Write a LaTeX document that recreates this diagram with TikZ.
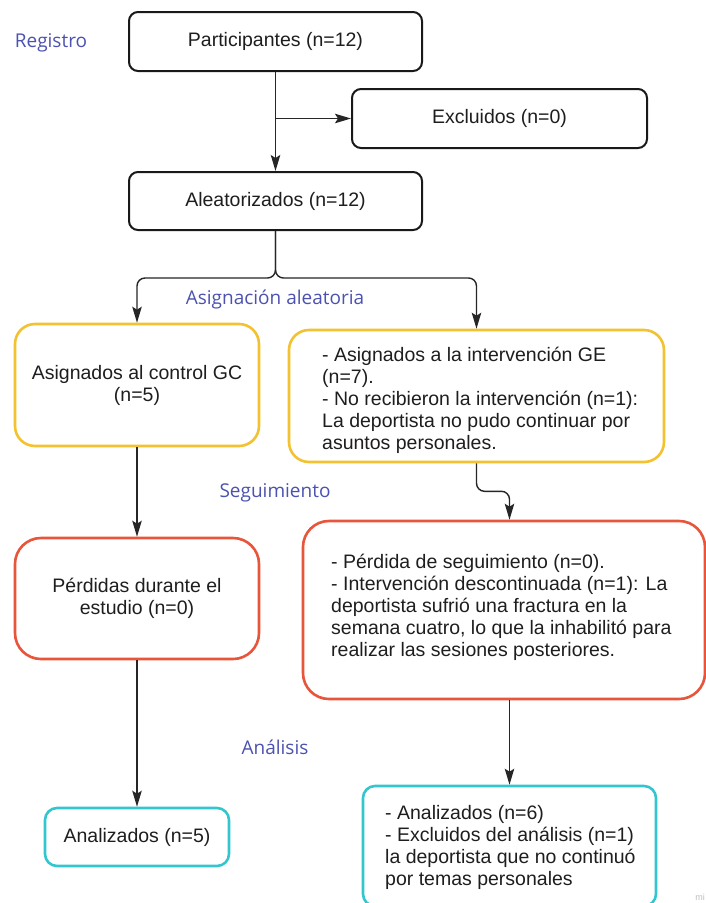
\documentclass[tikz,border=0pt]{standalone}
\usepackage{fontspec}
\setmainfont{Liberation Sans}
\newfontfamily\labfont{Open Sans}
\usetikzlibrary{arrows.meta}
\definecolor{boxyel}{HTML}{F2C230}
\definecolor{boxred}{HTML}{E8553B}
\definecolor{boxcyan}{HTML}{33C6CF}
\definecolor{labblue}{HTML}{4C52B0}
\definecolor{txt}{HTML}{1E1E1E}
\begin{document}
\begin{tikzpicture}[x=1pt,y=-1pt,
  every node/.style={text=txt, font=\fontsize{19.5}{22}\selectfont},
  blackbox/.style={draw=black!90, line width=2pt, rounded corners=9pt, inner sep=0pt},
  yelbox/.style={draw=boxyel, line width=2.6pt, rounded corners=20pt, inner sep=0pt},
  redbox/.style={draw=boxred, line width=2.6pt, rounded corners=26pt, inner sep=0pt},
  cyanbox/.style={draw=boxcyan, line width=2.6pt, rounded corners=12pt, inner sep=0pt},
  stagelab/.style={text=labblue, font=\labfont\fontsize{19}{22}\selectfont},
  bodytext/.style={align=left, inner sep=0pt, anchor=west},
  arr/.style={draw=black!85, line width=1.4pt, -{Stealth[length=16pt,width=9.5pt,inset=3pt]}}
]
\useasboundingbox (0,0) rectangle (706,903);
\clip (0,0) rectangle (706,903);
\fill[white] (0,0) rectangle (706,903);

% stage labels
\node[stagelab] (lreg) at (51,43) {Registro};
\node[stagelab] (lasig) at (275,299) {Asignación aleatoria};
\node[stagelab] (lseg) at (275,493) {Seguimiento};
\node[stagelab] (lana) at (275,747) {Análisis};

% boxes
\node[blackbox, minimum width=293pt, minimum height=59pt] (part) at (275.5,41.5) {Participantes (n=12)};
\node[blackbox, minimum width=295pt, minimum height=59pt] (excl) at (499.5,118.5) {Excluidos (n=0)};
\node[blackbox, minimum width=293pt, minimum height=58pt] (alea) at (275.5,201) {Aleatorizados (n=12)};

\node[yelbox, minimum width=244pt, minimum height=122pt, align=center] (gc) at (137,385) {Asignados al control GC\\(n=5)};
\node[yelbox, minimum width=375pt, minimum height=132pt] (ge) at (476.5,396) {};
\node[bodytext] (getext) at (322,400) {- Asignados a la intervención GE\\(n=7).\\- No recibieron la intervención (n=1):\\La deportista no pudo continuar por\\asuntos personales.};

\node[redbox, minimum width=244pt, minimum height=121pt, align=center] (lossc) at (137,598.5) {Pérdidas durante el\\estudio (n=0)};
\node[redbox, minimum width=402pt, minimum height=178pt] (losse) at (504,610) {};
\node[bodytext] (lossetext) at (331,607) {- Pérdida de seguimiento (n=0).\\- Intervención descontinuada (n=1): La\\deportista sufrió una fractura en la\\semana cuatro, lo que la inhabilitó para\\realizar las sesiones posteriores.};

\node[cyanbox, minimum width=184pt, minimum height=58pt] (anc) at (137,837) {Analizados (n=5)};
\node[cyanbox, minimum width=293pt, minimum height=120pt] (ane) at (509.5,846) {};
\node[bodytext] (anetext) at (385,847) {- Analizados (n=6)\\- Excluidos del análisis (n=1)\\la deportista que no continuó\\por temas personales};

% connectors
\coordinate (branch) at (275.5,118.5);
\coordinate (split) at (275.5,278);
\draw[arr] (part.south) -- (alea.north);
\draw[arr] (branch) -- (excl.west);
\draw[arr, rounded corners=8pt] (alea.south) -- (split) -| (gc.north);
\draw[arr, rounded corners=8pt] (alea.south) -- (split) -| (ge.north);
\draw[arr] (gc.south) -- (lossc.north);
\draw[arr, rounded corners=8pt] (ge.south) -- ++(0,28) -| (ane.north |- losse.north);
\draw[arr] (lossc.south) -- (anc.north);
\draw[arr] (ane.north |- losse.south) -- (ane.north);

% watermark
\node[text=black!25, font=\fontsize{9}{10}\selectfont] (wm) at (700,897) {mi};
\end{tikzpicture}
\end{document}
